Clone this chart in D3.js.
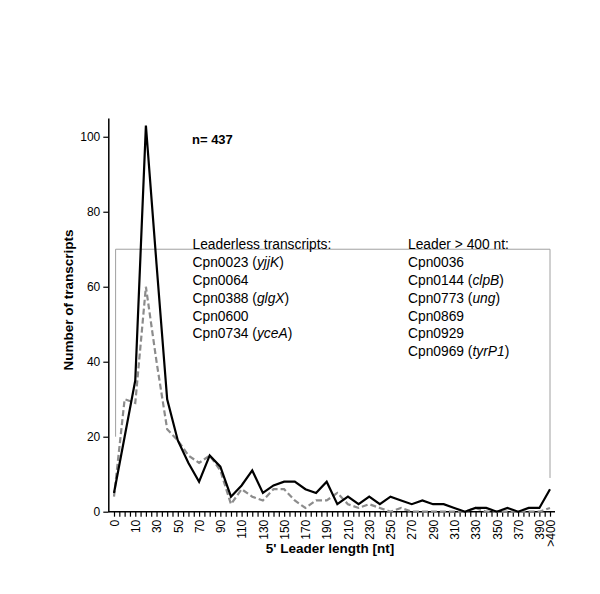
<!DOCTYPE html>
<html>
<head>
<meta charset="utf-8">
<script src="https://cdn.jsdelivr.net/npm/d3@7"></script>
<style>
  html, body { margin: 0; padding: 0; background: #fff; }
  svg { display: block; font-family: "Liberation Sans", Arial, sans-serif; }
</style>
</head>
<body>
<svg id="chart" width="600" height="594"></svg>
<script>
// ---- data ----
const categories = ["0","5","10","20","30","40","50","60","70","80","90","100","110","120","130","140","150","160","170","180","190","200","210","220","230","240","250","260","270","280","290","300","310","320","330","340","350","360","370","380","390",">400"];
const allTranscripts = [5,20,35,103,66,30,19,13,8,15,12,4,7,11,5,7,8,8,6,5,8,2,4,2,4,2,4,3,2,3,2,2,1,0,1,1,0,1,0,1,1,6];
const subsetTranscripts = [4,30,29,60,40,22,19,15,13,15,11,2,6,4,3,6,6,3,1,3,3,5,2,1,2,1,0,1,0,0,0,0,0,0,1,0,0,0,0,0,0,1];
const yTicks = [0,20,40,60,80,100];
const leaderlessList = [["Cpn0023 (","yjjK",")"],["Cpn0064"],["Cpn0388 (","glgX",")"],["Cpn0600"],["Cpn0734 (","yceA",")"]];
const longLeaderList = [["Cpn0036"],["Cpn0144 (","clpB",")"],["Cpn0773 (","ung",")"],["Cpn0869"],["Cpn0929"],["Cpn0969 (","tyrP1",")"]];

// ---- layout ----
const svg = d3.select("#chart");
const x0 = 114, x1 = 550, yBase = 511.7, yTop = 118;
const x = d3.scaleLinear().domain([0, categories.length - 1]).range([x0, x1]);
const y = d3.scaleLinear().domain([0, 105]).range([yBase, yTop]);

// gray box
svg.append("path")
  .attr("d", `M${x(0.15)},${y(20)}V${y(70)}H${x(41)}V${y(9)}`)
  .attr("fill", "none").attr("stroke", "#a0a0a0").attr("stroke-width", 1);

// y axis
const yAxis = svg.append("g").attr("transform", `translate(108.3,0)`)
  .call(d3.axisLeft(y).tickValues(yTicks).tickSize(5).tickSizeOuter(0).tickPadding(3));
yAxis.select(".domain").attr("stroke", "#000").attr("stroke-width", 1.5);
yAxis.selectAll(".tick line").attr("stroke", "#000").attr("stroke-width", 1.2);
yAxis.selectAll("text").attr("font-size", 12).attr("fill", "#000").attr("font-family", "Liberation Sans, Arial, sans-serif");

// x axis
const halfTicks = d3.range(0, categories.length - 0.5, 0.5);
const xAxis = svg.append("g").attr("transform", `translate(0,${yBase})`)
  .call(d3.axisBottom(x).tickValues(halfTicks).tickSize(5).tickSizeOuter(0)
    .tickFormat(d => (Number.isInteger(d) && d % 2 === 0) ? categories[d] : (d === categories.length - 1 ? categories[d] : "")));
xAxis.select(".domain").attr("stroke", "#000").attr("stroke-width", 1.5)
  .attr("d", `M108.3,0H555`);
xAxis.selectAll(".tick line").attr("stroke", "#000").attr("stroke-width", 1.2);
xAxis.selectAll("text")
  .attr("font-size", 12).attr("fill", "#000").attr("font-family", "Liberation Sans, Arial, sans-serif")
  .attr("transform", "rotate(-90)")
  .attr("text-anchor", "end")
  .attr("x", -8).attr("y", 0).attr("dy", "0.35em");

// lines
const line = d3.line().x((d, i) => x(i)).y(d => y(d));
svg.append("path").datum(subsetTranscripts)
  .attr("d", line).attr("fill", "none")
  .attr("stroke", "#8c8c8c").attr("stroke-width", 2.2).attr("stroke-dasharray", "6,3");
svg.append("path").datum(allTranscripts)
  .attr("d", line).attr("fill", "none")
  .attr("stroke", "#000").attr("stroke-width", 2.2).attr("stroke-linejoin", "miter");

// axis titles
svg.append("text").attr("transform", "translate(73,300) rotate(-90)")
  .attr("text-anchor", "middle").attr("font-weight", "bold").attr("font-size", 13.5)
  .text("Number of transcripts");
svg.append("text").attr("x", 330).attr("y", 553)
  .attr("text-anchor", "middle").attr("font-weight", "bold").attr("font-size", 13.5)
  .text("5' Leader length [nt]");

// n label
svg.append("text").attr("x", 192).attr("y", 144)
  .attr("font-weight", "bold").attr("font-size", 13).text("n= 437");

// lists
function drawList(xPos, title, items) {
  const g = svg.append("g").attr("font-size", 13.8);
  g.append("text").attr("x", xPos).attr("y", 249.3).text(title);
  items.forEach((parts, i) => {
    const t = g.append("text").attr("x", xPos).attr("y", 267.2 + i * 17.8);
    parts.forEach((p, j) => {
      t.append("tspan").attr("font-style", j === 1 ? "italic" : null).text(p);
    });
  });
}
drawList(192.5, "Leaderless transcripts:", leaderlessList);
drawList(408, "Leader > 400 nt:", longLeaderList);
</script>
</body>
</html>
